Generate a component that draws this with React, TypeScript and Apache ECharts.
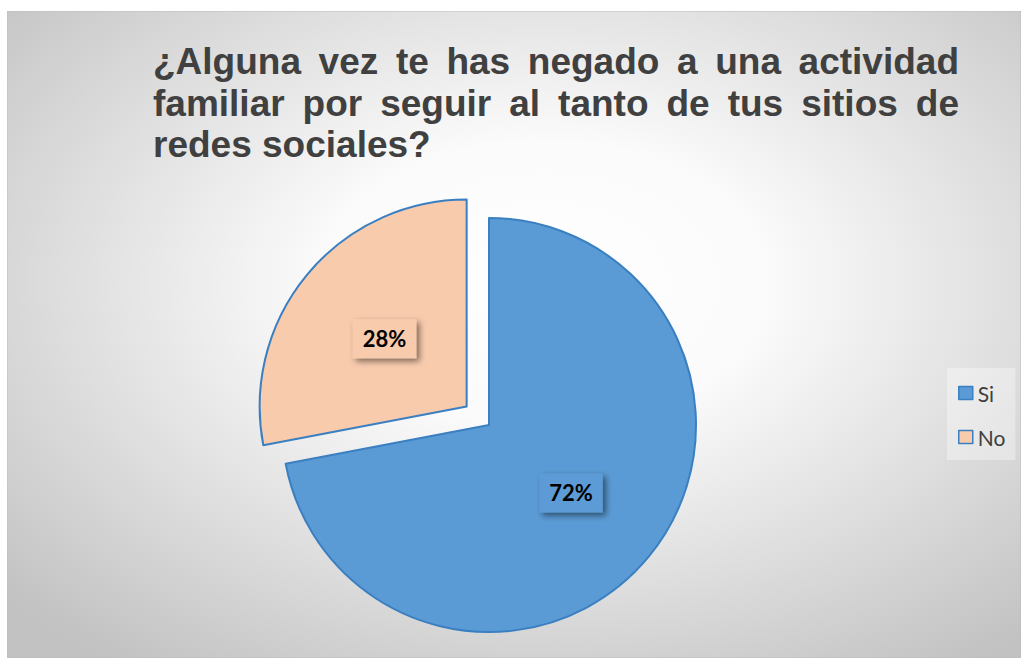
import React, { useEffect, useRef } from "react";
import * as echarts from "echarts";

const CATEGORIES = ["Si", "No"];
const VALUES = [72, 28];
const COLORS = ["#5b9bd5", "#f8cbad"];
const TITLE_LINES = [
  "¿Alguna vez te has negado a una actividad",
  "familiar por seguir al tanto de tus sitios de",
  "redes sociales?",
];
const JUSTIFY = [true, true, false];

const W = 1014;
const H = 647;
const TITLE_FONT = 'bold 37px "Liberation Sans", Arial, sans-serif';
const TITLE_LEFT = 146;
const TITLE_RIGHT = 952;
const TITLE_Y = [50.5, 92, 133.5];

function buildTitle(): any[] {
  const cv = document.createElement("canvas");
  const ctx = cv.getContext("2d")!;
  ctx.font = TITLE_FONT;
  const els: any[] = [];
  TITLE_LINES.forEach((line, li) => {
    const style = {
      font: TITLE_FONT,
      fill: "#404040",
      align: "left",
      verticalAlign: "middle",
    };
    if (!JUSTIFY[li]) {
      els.push({ type: "text", x: TITLE_LEFT, y: TITLE_Y[li], z: 10, style: { ...style, text: line } });
      return;
    }
    const words = line.split(" ");
    const widths = words.map((w) => ctx.measureText(w).width);
    const total = widths.reduce((a, b) => a + b, 0);
    const gap = (TITLE_RIGHT - TITLE_LEFT - total) / (words.length - 1);
    let x = TITLE_LEFT;
    words.forEach((w, i) => {
      els.push({ type: "text", x, y: TITLE_Y[li], z: 10, style: { ...style, text: w } });
      x += widths[i] + gap;
    });
  });
  return els;
}

export default function App() {
  const ref = useRef<HTMLDivElement>(null);
  useEffect(() => {
    const chart = echarts.init(ref.current!, null, { renderer: "svg" });
    const data = CATEGORIES.map((name, i) => ({
      name,
      value: VALUES[i],
      selected: i === 1,
      itemStyle: { color: COLORS[i] },
      label: { backgroundColor: COLORS[i] },
      select: { itemStyle: { color: COLORS[i], borderColor: "#3a7fc1", borderWidth: 2 } },
    }));
    chart.setOption({
      animation: false,
      graphic: [
        {
          type: "rect",
          z: -100,
          shape: { x: 0, y: 0, width: W, height: H },
          style: {
            fill: {
              type: "radial",
              x: 0.53,
              y: 0.42,
              r: 0.72,
              colorStops: [
                { offset: 0, color: "#ffffff" },
                { offset: 0.3, color: "#fbfbfb" },
                { offset: 1, color: "#c2c2c2" },
              ],
            },
            stroke: "#bdbdbd",
            lineWidth: 1,
          },
        },
        ...buildTitle(),
      ],
      legend: {
        orient: "vertical",
        left: 940,
        top: 357,
        padding: [13, 10, 11, 11],
        itemGap: 20,
        itemWidth: 14,
        itemHeight: 13,
        icon: "rect",
        backgroundColor: "rgba(255,255,255,0.35)",
        data: CATEGORIES,
        itemStyle: { borderColor: "#3a7fc1", borderWidth: 1.5 },
        textStyle: {
          fontFamily: "Lato, 'Noto Sans', sans-serif",
          fontSize: 21,
          lineHeight: 24,
          color: "#404040",
        },
        selectedMode: false,
      },
      series: [
        {
          type: "pie",
          center: [482, 414],
          radius: 207,
          startAngle: 90,
          clockwise: true,
          selectedMode: "single",
          selectedOffset: 29,
          emphasis: { disabled: true },
          itemStyle: { borderColor: "#3a7fc1", borderWidth: 2 },
          label: {
            show: true,
            position: "inside",
            formatter: (p: any) => Math.round(p.percent) + "%",
            fontFamily: "Lato, 'Noto Sans', sans-serif",
            fontWeight: "bold",
            fontSize: 22,
            color: "#000",
            padding: [9, 10, 8, 10],
            shadowBlur: 6,
            shadowColor: "rgba(0,0,0,0.5)",
            shadowOffsetX: 3,
            shadowOffsetY: 3,
          },
          labelLine: { show: false },
          data,
        },
      ],
    });
    return () => chart.dispose();
  }, []);
  return (
    <div
      ref={ref}
      style={{ position: "absolute", left: 7, top: 11, width: W, height: H }}
    />
  );
}
